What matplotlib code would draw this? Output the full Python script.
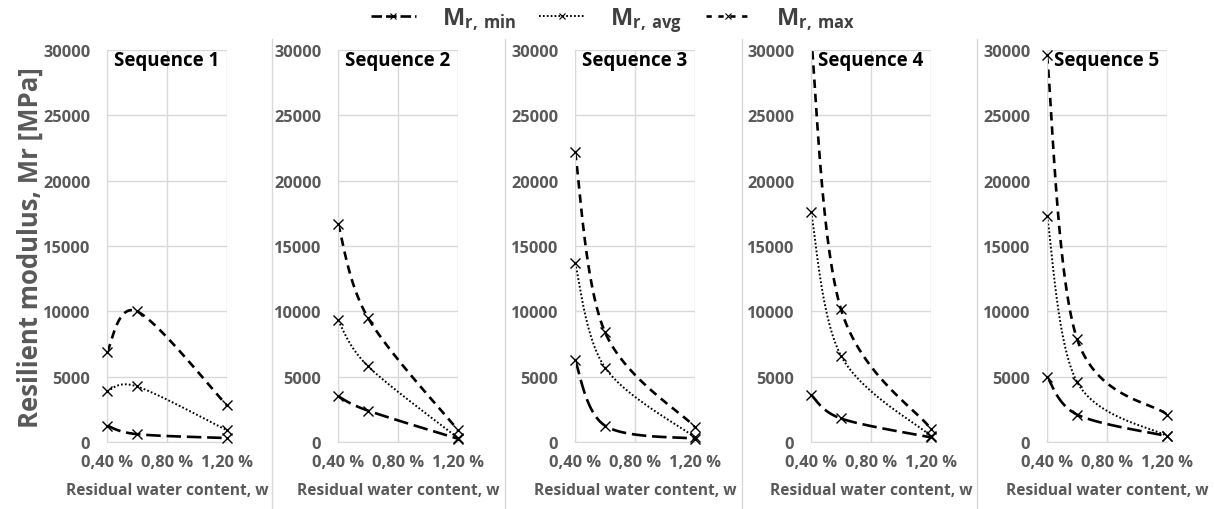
import numpy as np
import matplotlib
matplotlib.use("Agg")
import matplotlib.pyplot as plt
from matplotlib.lines import Line2D
from matplotlib.ticker import FuncFormatter, MultipleLocator

plt.rcParams['font.family'] = ['Open Sans', 'DejaVu Sans']
plt.rcParams['font.weight'] = 'bold'

# residual water content [%] and resilient modulus [MPa] per sequence
w = [0.40, 0.60, 1.20]
sequences = ["Sequence 1", "Sequence 2", "Sequence 3", "Sequence 4", "Sequence 5"]
mr_min = [[1250, 600, 300], [3500, 2400, 250], [6250, 1250, 250], [3600, 1800, 350], [5000, 2100, 450]]
mr_avg = [[3900, 4250, 900], [9300, 5800, 300], [13700, 5700, 350], [17600, 6600, 450], [17300, 4600, 450]]
mr_max = [[6900, 10000, 2800], [16700, 9500, 900], [22200, 8400, 1150], [31000, 10150, 1000], [29600, 7900, 2100]]

GREY = "#595959"
GRID = "#d9d9d9"
YMAX = 30000

styles = {
    "min": dict(lw=1.9, ls=(0, (5.5, 2.2))),
    "avg": dict(lw=1.4, ls=(0, (0.9, 1.1))),
    "max": dict(lw=1.9, ls=(0, (3.2, 2.2))),
}


def smooth(x, y, sx, sy, n=40):
    # excel-like smoothed line (catmull-rom bezier) in screen space
    p = np.column_stack([np.asarray(x) * sx, np.asarray(y) * sy])
    out = []
    for i in range(len(p) - 1):
        p0 = p[max(i - 1, 0)]
        p1, p2 = p[i], p[i + 1]
        p3 = p[min(i + 2, len(p) - 1)]
        c1 = p1 + (p2 - p0) / 6
        c2 = p2 - (p3 - p1) / 6
        t = np.linspace(0, 1, n)[:, None]
        seg = (1 - t) ** 3 * p1 + 3 * (1 - t) ** 2 * t * c1 + 3 * (1 - t) * t ** 2 * c2 + t ** 3 * p2
        out.append(seg if i == 0 else seg[1:])
    out = np.vstack(out)
    return out[:, 0] / sx, out[:, 1] / sy


fig = plt.figure(figsize=(12.14, 5.10), dpi=100)
lefts = [107, 338, 575, 811, 1047]
pw, ph = 120, 392
bottom = 510 - 443

for k, name in enumerate(sequences):
    ax = fig.add_axes([lefts[k] / 1214, bottom / 510, pw / 1214, ph / 510])
    ax.set_xlim(0.4, 1.2)
    ax.set_ylim(0, YMAX)
    ax.xaxis.set_major_locator(MultipleLocator(0.4))
    ax.yaxis.set_major_locator(MultipleLocator(5000))
    ax.xaxis.set_major_formatter(FuncFormatter(lambda v, pos: f"{v:.2f} %".replace('.', ',')))
    ax.grid(True, color=GRID, lw=1)
    ax.set_axisbelow(True)
    for s in ["top", "right"]:
        ax.spines[s].set_visible(False)
    for s in ["left", "bottom"]:
        ax.spines[s].set_color(GRID)
    ax.tick_params(length=0, labelsize=11.8, labelcolor=GREY)
    ax.tick_params(axis='x', pad=9)
    ax.tick_params(axis='y', pad=12)
    for lbl in ax.get_xticklabels() + ax.get_yticklabels():
        lbl.set_fontweight('bold')
    sx, sy = pw / 0.8, ph / YMAX
    for key, data in (("min", mr_min), ("avg", mr_avg), ("max", mr_max)):
        xs, ys = smooth(w, data[k], sx, sy)
        ax.plot(xs, ys, color="black", solid_capstyle='butt', dash_capstyle='butt', **styles[key])
        vals = np.array(data[k])
        inside = vals <= YMAX
        ax.plot(np.array(w)[inside], vals[inside], ls='none', marker='x', ms=6.5, mew=1.0,
                color="black", clip_on=False, zorder=5)
    ax.text(0.5, 1.0, name, transform=ax.transAxes, ha='center', va='top',
            fontsize=13.5, fontweight='bold', color='black')
    ax.set_xlabel("Residual water content, w", fontsize=11.2, fontweight='bold', color=GREY, labelpad=8)

# chart borders between the panels
for xs in [272, 505, 742, 977]:
    fig.add_artist(Line2D([xs / 1214, xs / 1214], [0, 1 - 40 / 510], color=GRID, lw=1))

fig.text(0.025, 0.515, "Resilient modulus, Mr [MPa]", rotation=90, ha='center', va='center',
         fontsize=18.5, fontweight='bold', color=GREY)

legend_styles = {
    "min": dict(lw=1.9, ls=(0, (4.0, 1.5))),
    "avg": dict(lw=1.4, ls=(0, (0.9, 1.1))),
    "max": dict(lw=1.9, ls=(0, (2.0, 2.5))),
}
handles = [Line2D([], [], color='black', marker='x', ms=5, mew=0.8, **legend_styles[k]) for k in ("min", "avg", "max")]
labels = [r"$\mathregular{M_{r,\,min}}$", r"$\mathregular{M_{r,\,avg}}$", r"$\mathregular{M_{r,\,max}}$"]
fig.legend(handles, labels, loc='upper center', bbox_to_anchor=(0.505, 1.03), ncol=3, frameon=False,
           prop={'size': 17, 'weight': 'bold'}, handlelength=1.9, columnspacing=1.0, handletextpad=1.1,
           numpoints=1, labelcolor="#404040")

fig.savefig("out.png", dpi=100)
